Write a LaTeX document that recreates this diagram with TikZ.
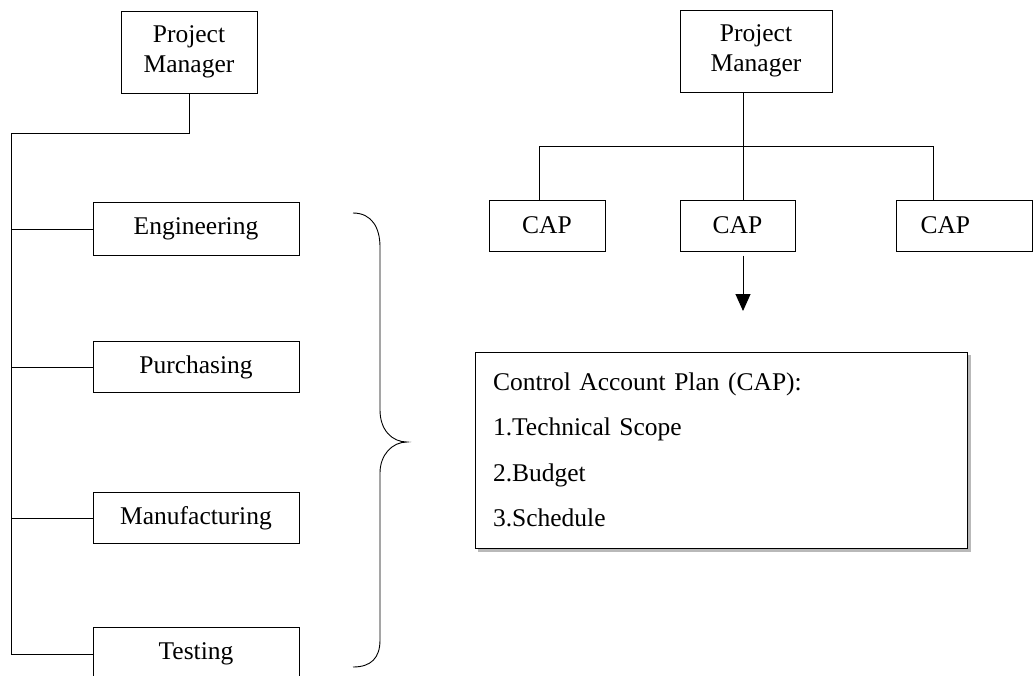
\documentclass[tikz,border=0pt]{standalone}
\usepackage{fontspec}
\setmainfont{Liberation Serif}
\usetikzlibrary{arrows.meta}

\newcommand\boxfont{\fontsize{25.5}{30}\selectfont}
\newcommand\planfont{\fontsize{25.5}{45.5}\selectfont}

\tikzset{
  orgbox/.style={draw, line width=1pt, inner sep=0pt, font=\boxfont, align=center, fill=white},
  link/.style={line width=1pt},
  brace/.style={line width=0.9pt},
}

\begin{document}
\begin{tikzpicture}[x=1pt, y=-1pt]
  \useasboundingbox (0,0) rectangle (1033,675);
  \clip (0,0) rectangle (1033,675);

  % ---- functional organisation (left) ----
  \node[orgbox, minimum width=136, minimum height=82] (pmL) at (189,52) {Project\\Manager};
  \node[orgbox, minimum width=206, minimum height=53] (eng) at (196,229) {Engineering};
  \node[orgbox, minimum width=206, minimum height=51] (pur) at (196,367) {Purchasing};
  \node[orgbox, minimum width=206, minimum height=51] (man) at (196,518) {Manufacturing};
  \node[orgbox, minimum width=206, minimum height=53] (tst) at (196,654) {Testing};

  \coordinate (spine) at (11,133);
  \draw[link] (pmL.south) |- (spine) -- (spine |- tst.west);
  \foreach \n in {eng,pur,man,tst}
    \draw[link] (spine |- \n.west) -- (\n.west);

  % curly brace grouping the departments
  \draw[brace] (353,213) .. controls (372,213) and (380,228) .. (380,247)
    -- (380,410) .. controls (380,430) and (392,442) .. (407,442)
    .. controls (392,442) and (380,455) .. (380,473)
    -- (380,640) .. controls (380,658) and (371,667) .. (353,667);

  % ---- control account structure (right) ----
  \node[orgbox, minimum width=152, minimum height=82] (pmR) at (756,51) {Project\\Manager};
  \node[orgbox, minimum width=116, minimum height=51] (capL) at (547,225.5) {CAP};
  \node[orgbox, minimum width=115, minimum height=51] (capM) at (737.5,225.5) {CAP};
  \node[orgbox, anchor=west, minimum height=51, text width=88, inner xsep=24, align=left] (capR) at (896,225.5) {CAP};

  \coordinate (jL) at (539,146);
  \coordinate (jM) at (743,146);
  \coordinate (jR) at (933,146);
  \draw[link] (jL) -- (jR);
  \draw[link] (jM |- pmR.south) -- (jM |- capM.north);
  \draw[link] (jL) -- (jL |- capL.north);
  \draw[link] (jR) -- (jR |- capR.north);

  \coordinate (tip) at (743,311);
  \draw[link, shorten <=4pt, -{Triangle[width=15pt, length=17pt]}] (jM |- capM.south) -- (tip);

  % plan description with a light drop shadow
  \fill[gray!55] (478,355) rectangle (971,552);
  \node[draw, line width=1pt, fill=white, inner xsep=18pt, inner ysep=0pt,
        minimum width=492, minimum height=196, text width=456, align=left, font=\planfont]
    (plan) at (721,450)
    {Control Account Plan (CAP):\\1.Technical Scope\\2.Budget\\3.Schedule};
\end{tikzpicture}
\end{document}
